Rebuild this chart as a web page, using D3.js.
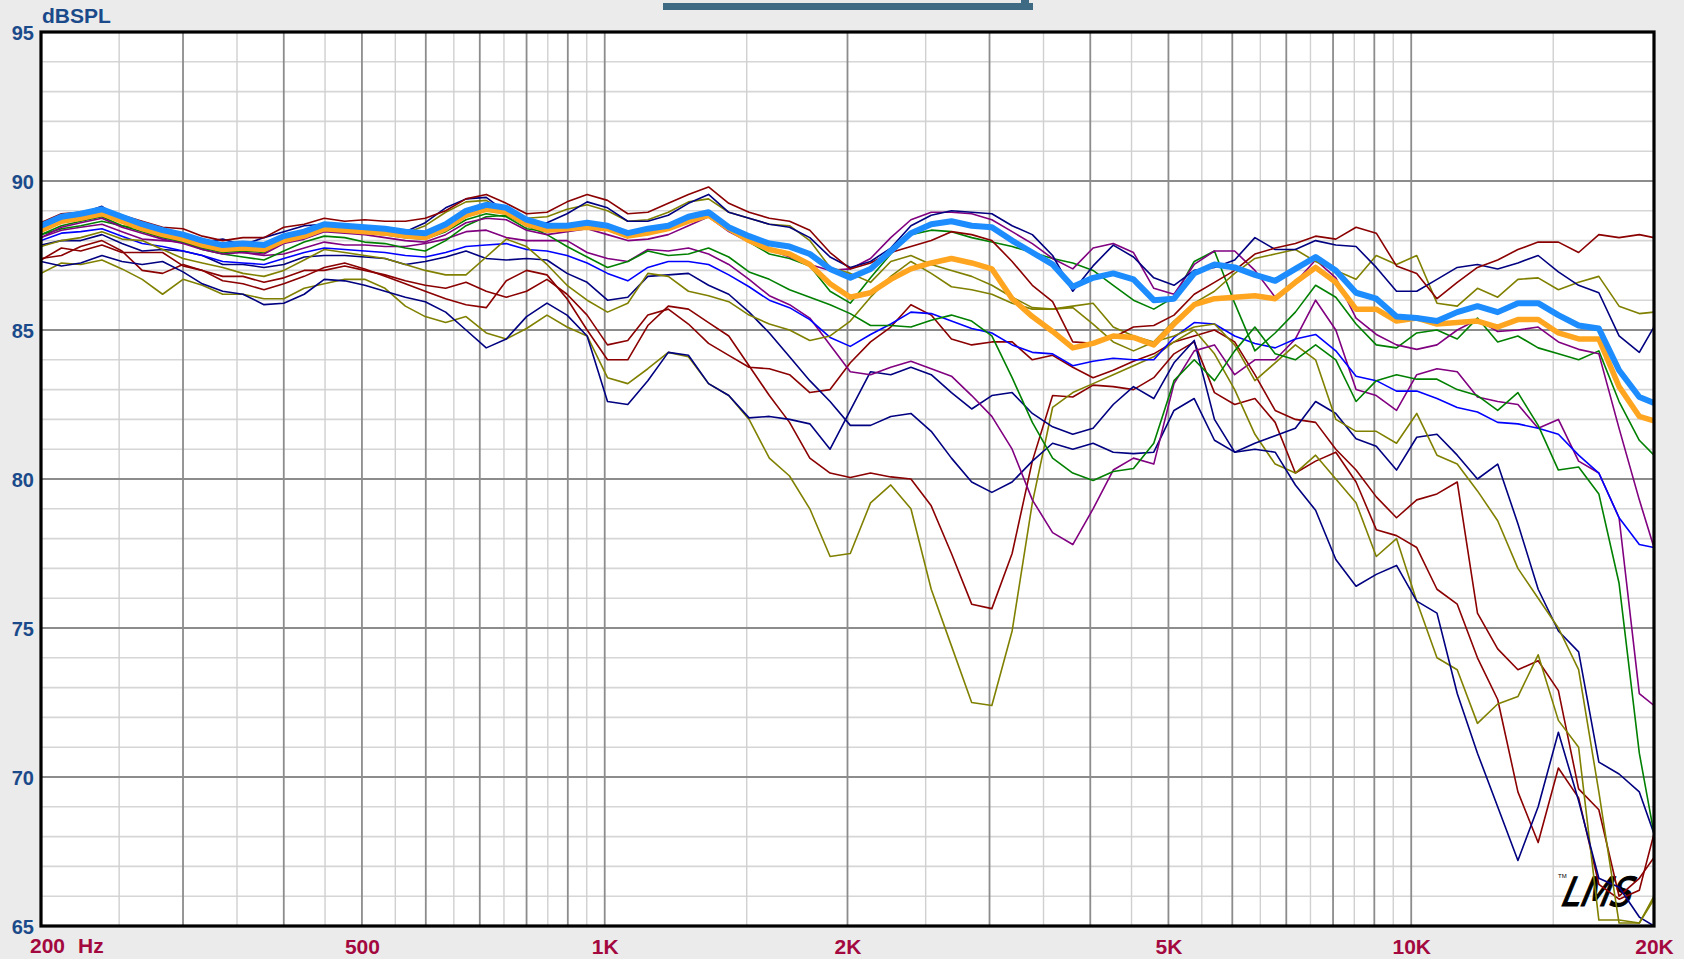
<!DOCTYPE html>
<html>
<head>
<meta charset="utf-8">
<script src="https://cdn.jsdelivr.net/npm/d3@7"></script>
<style>
  html, body { margin: 0; padding: 0; background: #ebebeb; }
  svg { display: block; }
</style>
</head>
<body>
<svg></svg>
<script>
// 1/12 octave measurement points, Hz
const freqs = [200, 212, 224, 238, 252, 267, 283, 300, 317, 336, 356, 378, 400, 424, 449, 476, 504, 534, 566, 599,
    635, 673, 713, 755, 800, 848, 898, 951, 1008, 1068, 1131, 1199, 1270, 1345, 1425, 1510, 1600, 1695, 1796, 1903,
    2016, 2136, 2263, 2397, 2540, 2691, 2851, 3020, 3200, 3390, 3592, 3805, 4032, 4271, 4525, 4795, 5080, 5382, 5702, 6041,
    6400, 6781, 7184, 7611, 8063, 8543, 9051, 9589, 10159, 10763, 11404, 12082, 12800, 13561, 14368, 15222, 16127, 17086, 18102, 19179, 20000];

// dBSPL curves
const redA = [88.6, 88.9, 88.95, 89.1, 88.85, 88.65, 88.45, 88.4, 88.15, 88.0, 88.1, 88.1, 88.45, 88.55, 88.75, 88.65, 88.7, 88.65, 88.65, 88.75, 89.0, 89.4, 89.55, 89.25, 88.9, 88.95, 89.3, 89.55,
    89.35, 88.9, 88.95, 89.25, 89.55, 89.8, 89.25, 88.95, 88.75, 88.65, 88.35, 87.6, 87.05, 87.25, 87.6, 87.8, 88.0, 88.3, 88.2, 88.0, 87.3, 86.5, 85.95, 84.6, 84.55, 84.75, 85.1, 85.15,
    85.5, 86.2, 86.6, 87.0, 87.55, 87.75, 87.9, 88.15, 88.05, 88.45, 88.25, 87.15, 86.9, 86.05, 86.6, 87.1, 87.35, 87.7, 87.95, 87.95, 87.6, 88.2, 88.1, 88.2, 88.1];
const navyA = [88.45, 88.75, 88.9, 89.15, 88.7, 88.55, 88.4, 88.2, 87.95, 88.05, 87.85, 88.1, 88.3, 88.5, 88.55, 88.5, 88.4, 88.35, 88.3, 88.6, 89.1, 89.4, 89.45, 88.95, 88.6, 88.6, 88.9, 89.3,
    89.1, 88.65, 88.65, 88.85, 89.25, 89.55, 88.95, 88.75, 88.55, 88.45, 88.1, 87.45, 87.1, 87.3, 87.75, 88.5, 88.85, 89.0, 88.95, 88.9, 88.5, 88.2, 87.5, 86.3, 87.15, 87.85, 87.45, 86.75,
    86.5, 87.0, 87.1, 87.35, 88.1, 87.7, 87.7, 88.0, 87.85, 87.8, 87.1, 86.3, 86.3, 86.7, 87.1, 87.2, 87.05, 87.25, 87.5, 86.95, 86.5, 86.25, 84.8, 84.25, 85.1];
const oliveA = [88.3, 88.6, 88.75, 88.9, 88.6, 88.4, 88.2, 88.1, 87.9, 87.75, 87.8, 87.8, 88.1, 88.3, 88.45, 88.4, 88.35, 88.3, 88.25, 88.5, 88.95, 89.3, 89.35, 88.95, 88.75, 88.8, 89.05, 89.2,
    89.0, 88.65, 88.7, 88.95, 89.3, 89.4, 88.95, 88.75, 88.55, 88.5, 88.0, 87.1, 86.9, 86.6, 87.3, 87.5, 87.2, 87.0, 86.8, 86.5, 86.1, 85.75, 85.7, 85.8, 85.9, 85.1, 84.8, 84.6,
    85.3, 85.9, 86.3, 86.9, 87.4, 87.55, 87.7, 87.3, 87.0, 86.7, 87.5, 87.2, 87.5, 85.9, 85.8, 86.4, 86.1, 86.7, 86.75, 86.35, 86.6, 86.8, 85.8, 85.55, 85.6];
const purpleA = [88.1, 88.45, 88.6, 88.75, 88.45, 88.25, 88.05, 87.9, 87.7, 87.55, 87.6, 87.55, 87.9, 88.05, 88.3, 88.25, 88.2, 88.1, 88.0, 87.95, 88.2, 88.6, 88.75, 88.7, 88.35, 88.2, 88.3, 88.4,
    88.2, 88.0, 88.05, 88.2, 88.5, 88.8, 88.3, 87.95, 87.7, 87.45, 87.2, 87.0, 87.05, 87.4, 88.1, 88.7, 88.95, 88.95, 88.9, 88.7, 88.3, 87.9, 87.4, 87.05, 87.75, 87.9, 87.6, 86.4,
    86.2, 87.2, 87.65, 87.65, 87.0, 86.1, 86.6, 87.35, 86.75, 85.4, 84.85, 84.5, 84.35, 84.5, 85.0, 85.35, 84.95, 85.0, 85.1, 84.6, 84.35, 84.2, 81.7, 79.3, 77.7];
const greenA = [88.2, 88.5, 88.65, 88.8, 88.5, 88.3, 88.1, 87.95, 87.75, 87.6, 87.65, 87.6, 87.95, 88.1, 88.35, 88.3, 88.25, 88.2, 88.1, 88.05, 88.3, 88.7, 88.9, 88.8, 88.4, 88.3, 88.4, 88.45,
    88.4, 88.2, 88.3, 88.5, 88.85, 88.85, 88.4, 87.95, 87.55, 87.4, 87.15, 86.3, 85.9, 86.75, 87.55, 88.2, 88.35, 88.3, 88.1, 87.95, 87.8, 87.6, 87.4, 87.25, 87.0, 86.5, 86.0, 85.7,
    86.1, 87.3, 87.65, 85.9, 84.3, 84.9, 85.6, 86.5, 86.1, 85.2, 84.5, 84.4, 84.9, 85.0, 84.7, 85.4, 84.6, 84.8, 84.4, 84.2, 84.0, 84.3, 82.6, 81.3, 80.8];
const greenB = [88.2, 88.4, 88.5, 88.65, 88.5, 88.4, 88.15, 87.95, 87.7, 87.55, 87.45, 87.35, 87.65, 87.95, 88.15, 88.1, 87.95, 87.9, 87.75, 87.65, 88.0, 88.5, 88.8, 88.85, 88.5, 88.2, 87.8, 87.45,
    87.1, 87.3, 87.65, 87.5, 87.55, 87.75, 87.45, 86.95, 86.7, 86.35, 86.1, 85.85, 85.55, 85.15, 85.15, 85.1, 85.33, 85.5, 85.3, 84.8, 83.4, 81.9, 80.7, 80.2, 79.95, 80.25, 80.35, 81.2,
    83.3, 84.0, 83.3, 84.3, 85.1, 84.2, 84.0, 84.5, 84.0, 82.6, 83.3, 83.5, 83.35, 83.35, 83.0, 82.8, 82.3, 82.9, 81.8, 80.3, 80.4, 79.5, 76.5, 70.8, 68.1];
const oliveB = [87.8, 88.0, 88.1, 88.3, 88.05, 88.0, 87.7, 87.4, 87.25, 87.1, 86.9, 86.8, 87.0, 87.35, 87.7, 87.6, 87.5, 87.4, 87.2, 87.0, 86.85, 86.85, 87.45, 88.05, 87.8, 87.2, 86.5, 86.0,
    85.6, 85.9, 86.9, 86.8, 86.3, 86.15, 85.95, 85.5, 85.2, 85.0, 84.65, 84.8, 85.3, 86.1, 86.8, 87.3, 86.9, 86.45, 86.35, 86.2, 85.9, 85.7, 85.7, 85.75, 85.2, 84.6, 84.3, 84.6,
    84.8, 85.1, 85.2, 84.5, 83.3, 83.9, 84.5, 84.0, 82.0, 81.6, 81.6, 81.2, 82.2, 80.8, 80.5, 79.6, 78.6, 77.0, 76.0, 75.0, 73.6, 69.5, 65.1, 65.1, 65.9];
const navyB = [87.85, 88.0, 88.0, 88.2, 87.9, 87.65, 87.7, 87.65, 87.5, 87.2, 87.2, 87.1, 87.2, 87.45, 87.5, 87.5, 87.45, 87.4, 87.2, 87.3, 87.45, 87.65, 87.4, 87.35, 87.4, 87.35, 86.9, 86.6,
    86.0, 86.1, 86.8, 86.85, 86.9, 86.5, 86.2, 85.6, 84.9, 84.1, 83.3, 82.6, 81.8, 81.8, 82.1, 82.2, 81.6, 80.7, 79.9, 79.55, 79.9, 80.6, 81.2, 81.0, 81.2, 80.9, 80.85, 80.9,
    82.3, 82.7, 81.3, 80.9, 81.2, 81.45, 81.7, 82.6, 82.2, 81.35, 81.1, 80.3, 81.4, 81.5, 80.8, 80.0, 80.5, 78.5, 76.3, 74.9, 74.2, 70.5, 70.1, 69.5, 68.1];
const navyC = [87.3, 87.15, 87.25, 87.5, 87.3, 87.2, 87.3, 86.95, 86.55, 86.3, 86.2, 85.85, 85.9, 86.2, 86.7, 86.65, 86.5, 86.3, 86.1, 85.95, 85.6, 85.0, 84.4, 84.7, 85.45, 85.9, 85.5, 84.8,
    82.6, 82.5, 83.3, 84.25, 84.15, 83.2, 82.8, 82.05, 82.1, 82.0, 81.85, 81.0, 82.3, 83.6, 83.5, 83.75, 83.5, 82.9, 82.35, 82.8, 82.9, 82.2, 81.75, 81.5, 81.7, 82.5, 83.1, 82.7,
    83.9, 84.65, 82.0, 80.9, 81.0, 80.9, 79.8, 78.95, 77.3, 76.4, 76.8, 77.1, 75.9, 75.5, 72.8, 70.8, 69.0, 67.2, 69.0, 71.5, 69.2, 66.6, 66.3, 65.3, 65.0];
const blueA = [88.0, 88.25, 88.3, 88.4, 88.15, 87.9, 87.8, 87.65, 87.5, 87.3, 87.25, 87.2, 87.4, 87.6, 87.75, 87.7, 87.65, 87.6, 87.5, 87.45, 87.6, 87.8, 87.85, 87.9, 87.7, 87.65, 87.5, 87.25,
    86.9, 86.65, 87.1, 87.3, 87.3, 87.2, 86.85, 86.45, 86.0, 85.75, 85.35, 84.75, 84.45, 84.85, 85.2, 85.6, 85.55, 85.3, 85.05, 84.9, 84.5, 84.25, 84.2, 83.8, 83.95, 84.05, 84.0, 84.0,
    84.75, 85.25, 85.2, 84.8, 84.55, 84.4, 84.7, 84.85, 84.3, 83.45, 83.3, 82.95, 82.95, 82.7, 82.4, 82.25, 81.9, 81.85, 81.7, 81.5, 80.8, 80.2, 78.7, 77.8, 77.7];
const purpleB = [88.1, 88.35, 88.45, 88.55, 88.3, 88.05, 88.0, 87.95, 87.75, 87.65, 87.6, 87.5, 87.55, 87.75, 87.95, 87.85, 87.85, 87.8, 87.8, 87.9, 88.05, 88.3, 88.35, 88.1, 88.0, 88.0, 88.0, 87.6,
    87.4, 87.3, 87.7, 87.65, 87.75, 87.55, 87.2, 86.7, 86.15, 85.85, 85.4, 84.5, 83.6, 83.5, 83.75, 83.95, 83.7, 83.45, 82.8, 82.1, 81.0, 79.3, 78.2, 77.8, 79.0, 80.3, 80.7, 80.5,
    83.2, 84.3, 84.5, 83.5, 84.0, 84.0, 84.7, 86.0, 85.0, 83.0, 82.8, 82.3, 83.5, 83.7, 83.6, 82.75, 82.6, 82.5, 81.7, 82.0, 80.6, 80.2, 78.7, 72.8, 72.4];
const redB = [87.35, 87.75, 87.65, 87.85, 87.6, 87.6, 87.6, 87.15, 87.0, 86.8, 86.8, 86.6, 86.75, 87.0, 87.0, 87.15, 87.0, 86.85, 86.65, 86.5, 86.4, 86.6, 86.3, 86.1, 86.3, 86.7, 86.2, 85.5,
    84.5, 84.65, 85.5, 85.7, 85.2, 84.55, 84.15, 83.75, 83.7, 83.5, 82.9, 83.0, 83.9, 84.6, 85.1, 85.85, 85.5, 84.7, 84.5, 84.6, 84.6, 84.0, 84.15, 83.75, 83.4, 83.65, 83.95, 84.2,
    84.6, 84.8, 85.0, 84.6, 83.5, 82.3, 82.0, 81.9, 81.0, 80.3, 79.4, 78.7, 79.3, 79.5, 79.9, 75.5, 74.3, 73.6, 73.9, 72.9, 69.6, 68.9, 66.0, 66.6, 67.3];
const redC = [87.4, 87.5, 87.8, 88.0, 87.65, 87.0, 86.9, 87.2, 87.0, 86.65, 86.55, 86.35, 86.55, 86.8, 87.1, 87.25, 87.05, 86.8, 86.55, 86.3, 86.05, 85.85, 85.75, 86.65, 87.0, 86.85, 86.05, 85.0,
    84.0, 84.0, 85.15, 85.8, 85.7, 85.25, 84.8, 83.8, 82.8, 81.9, 80.7, 80.2, 80.05, 80.2, 80.07, 80.0, 79.1, 77.5, 75.8, 75.65, 77.5, 80.6, 82.8, 82.75, 83.15, 83.1, 83.0, 83.4,
    84.2, 84.6, 82.9, 82.5, 82.7, 81.9, 80.2, 80.6, 80.9, 79.9, 78.3, 78.1, 77.7, 76.3, 75.8, 74.0, 72.6, 69.5, 67.8, 70.3, 69.3, 66.4, 65.9, 66.2, 68.1];
const oliveC = [86.9, 87.25, 87.2, 87.35, 87.05, 86.7, 86.2, 86.7, 86.5, 86.2, 86.2, 86.05, 86.05, 86.4, 86.55, 86.7, 86.7, 86.4, 85.8, 85.45, 85.25, 85.45, 84.9, 84.7, 85.05, 85.5, 85.1, 84.8,
    83.4, 83.2, 83.7, 84.25, 84.1, 83.2, 82.8, 82.0, 80.7, 80.1, 79.0, 77.4, 77.5, 79.2, 79.8, 79.0, 76.3, 74.4, 72.5, 72.4, 74.9, 79.2, 82.4, 82.9, 83.2, 83.5, 83.8, 84.1,
    84.6, 85.0, 84.2, 83.0, 81.5, 80.5, 80.2, 80.8, 80.0, 79.2, 77.4, 78.0, 75.9, 74.0, 73.6, 71.8, 72.45, 72.7, 74.1, 71.9, 71.0, 65.2, 65.2, 65.1, 66.0];
const avgBlue = [88.5, 88.8, 88.9, 89.05, 88.8, 88.55, 88.35, 88.2, 88.0, 87.85, 87.9, 87.85, 88.15, 88.3, 88.55, 88.5, 88.45, 88.4, 88.3, 88.25, 88.55, 89.0, 89.2, 89.1, 88.7, 88.5, 88.5, 88.6,
    88.5, 88.25, 88.4, 88.5, 88.8, 88.95, 88.45, 88.15, 87.9, 87.8, 87.55, 87.05, 86.75, 87.05, 87.65, 88.25, 88.55, 88.65, 88.5, 88.45, 88.0, 87.6, 87.2, 86.45, 86.75, 86.9, 86.7, 86.0,
    86.05, 86.9, 87.2, 87.1, 86.85, 86.65, 87.05, 87.45, 87.0, 86.25, 86.05, 85.45, 85.4, 85.3, 85.6, 85.8, 85.6, 85.9, 85.9, 85.5, 85.15, 85.05, 83.65, 82.75, 82.55];
const avgOrange = [88.35, 88.65, 88.75, 88.9, 88.65, 88.4, 88.2, 88.05, 87.85, 87.7, 87.75, 87.7, 88.0, 88.15, 88.4, 88.35, 88.3, 88.25, 88.15, 88.1, 88.4, 88.85, 89.05, 88.95, 88.55, 88.35, 88.4, 88.45,
    88.4, 88.15, 88.25, 88.4, 88.65, 88.85, 88.4, 88.0, 87.7, 87.55, 87.2, 86.55, 86.1, 86.25, 86.7, 87.05, 87.25, 87.4, 87.25, 87.05, 86.05, 85.45, 84.95, 84.4, 84.55, 84.8, 84.75, 84.5,
    85.2, 85.85, 86.05, 86.1, 86.15, 86.05, 86.6, 87.1, 86.6, 85.7, 85.7, 85.3, 85.4, 85.2, 85.25, 85.3, 85.1, 85.35, 85.35, 84.9, 84.7, 84.7, 83.1, 82.1, 81.95];

const thinCurves = [
    { color: "#8b0000", values: redB }, { color: "#8b0000", values: redC },
    { color: "#808000", values: oliveC }, { color: "#000080", values: navyC },
    { color: "#000080", values: navyB }, { color: "#800080", values: purpleB },
    { color: "#0000ff", values: blueA }, { color: "#808000", values: oliveB },
    { color: "#008000", values: greenB }, { color: "#008000", values: greenA },
    { color: "#800080", values: purpleA }, { color: "#808000", values: oliveA },
    { color: "#000080", values: navyA }, { color: "#8b0000", values: redA }
];
const thickCurves = [
    { color: "#ffa51f", values: avgOrange, width: 5.5 },
    { color: "#1c8cff", values: avgBlue, width: 6 }
];

const yTicks = [95, 90, 85, 80, 75, 70, 65];
const xTicks = [500, 1000, 2000, 5000, 10000, 20000];
const xTickText = ["500", "1K", "2K", "5K", "10K", "20K"];
const majorFreqs = [300, 400, 500, 600, 700, 800, 900, 1000, 2000, 3000, 4000, 5000, 6000, 7000, 8000, 9000, 10000];
const minorFreqs = [250, 350, 450, 550, 650, 750, 850, 950, 1500, 2500, 3500, 4500, 5500, 6500, 7500, 8500, 9500, 15000];

const width = 1684, height = 959;
const svg = d3.select("svg").attr("width", width).attr("height", height);
const x = d3.scaleLog().domain([200, 20000]).range([41, 1654]);
const y = d3.scaleLinear().domain([65, 95]).range([926, 32]);

// top slider bar
svg.append("rect").attr("x", 663).attr("y", 3).attr("width", 370).attr("height", 7).attr("fill", "#3e6a83");
svg.append("rect").attr("x", 1021).attr("y", 0).attr("width", 8).attr("height", 4).attr("fill", "#3e6a83");

svg.append("rect").attr("x", 41).attr("y", 32).attr("width", 1613).attr("height", 894).attr("fill", "#fff");

const grid = svg.append("g");
const dbs = d3.range(66, 95);
grid.selectAll(".hmin").data(dbs.filter(d => d % 5 !== 0)).enter().append("line")
    .attr("x1", 41).attr("x2", 1654).attr("y1", d => y(d)).attr("y2", d => y(d))
    .attr("stroke", "#d6d6d6").attr("stroke-width", 1.6);
grid.selectAll(".vmin").data(minorFreqs).enter().append("line")
    .attr("x1", d => x(d)).attr("x2", d => x(d)).attr("y1", 32).attr("y2", 926)
    .attr("stroke", "#d0d0d0").attr("stroke-width", 1.4);
grid.selectAll(".vmaj").data(majorFreqs).enter().append("line")
    .attr("x1", d => x(d)).attr("x2", d => x(d)).attr("y1", 32).attr("y2", 926)
    .attr("stroke", "#8c8c8c").attr("stroke-width", 1.8);
grid.selectAll(".hmaj").data(dbs.filter(d => d % 5 === 0)).enter().append("line")
    .attr("x1", 41).attr("x2", 1654).attr("y1", d => y(d)).attr("y2", d => y(d))
    .attr("stroke", "#8c8c8c").attr("stroke-width", 1.8);

// LMS mark
const logo = svg.append("g").attr("transform", "translate(1561,906) skewX(-14)");
logo.append("text").text("LMS")
    .attr("font-family", "DejaVu Sans, sans-serif").attr("font-size", 40)
    .attr("font-style", "italic").attr("textLength", 70).attr("lengthAdjust", "spacingAndGlyphs")
    .attr("fill", "#000").attr("stroke", "#000").attr("stroke-width", 1.2);
svg.append("text").attr("x", 1558).attr("y", 878).text("TM")
    .attr("font-family", "Liberation Sans, Arial, sans-serif").attr("font-size", 6).attr("fill", "#000");

svg.append("clipPath").attr("id", "plot").append("rect")
    .attr("x", 41).attr("y", 32).attr("width", 1613).attr("height", 894);

const line = d3.line().x((d, i) => x(freqs[i])).y(d => y(d));
const curves = svg.append("g").attr("clip-path", "url(#plot)");
curves.selectAll(".thin").data(thinCurves).enter().append("path")
    .attr("d", d => line(d.values))
    .attr("fill", "none").attr("stroke", d => d.color).attr("stroke-width", 1.6)
    .attr("stroke-linejoin", "round");
curves.selectAll(".thick").data(thickCurves).enter().append("path")
    .attr("d", d => line(d.values))
    .attr("fill", "none").attr("stroke", d => d.color).attr("stroke-width", d => d.width)
    .attr("stroke-linejoin", "round").attr("stroke-linecap", "round");

svg.append("rect").attr("x", 41).attr("y", 32).attr("width", 1613).attr("height", 894)
    .attr("fill", "none").attr("stroke", "#000").attr("stroke-width", 3.2);

const yAxis = svg.append("g").attr("transform", "translate(35,0)")
    .call(d3.axisLeft(y).tickValues(yTicks).tickSize(0).tickPadding(1).tickFormat(d3.format("d")));
yAxis.select(".domain").remove();
yAxis.selectAll("text")
    .attr("font-family", "Liberation Sans, Arial, sans-serif").attr("font-size", 20).attr("font-weight", "bold")
    .attr("fill", "#1a4a8a").attr("dy", "0.36em");

const xAxis = svg.append("g").attr("transform", "translate(0,936)")
    .call(d3.axisBottom(x).tickValues(xTicks).tickSize(0).tickPadding(0).tickFormat((d, i) => xTickText[i]));
xAxis.select(".domain").remove();
xAxis.selectAll("text")
    .attr("font-family", "Liberation Sans, Arial, sans-serif").attr("font-size", 21).attr("font-weight", "bold")
    .attr("fill", "#a3083f").attr("dy", "0.85em");

svg.append("text").attr("x", 30).attr("y", 953).text("200")
    .attr("font-family", "Liberation Sans, Arial, sans-serif").attr("font-size", 21).attr("font-weight", "bold").attr("fill", "#a3083f");
svg.append("text").attr("x", 78).attr("y", 953).text("Hz")
    .attr("font-family", "Liberation Sans, Arial, sans-serif").attr("font-size", 21).attr("font-weight", "bold").attr("fill", "#a3083f");

svg.append("text").attr("x", 42).attr("y", 23).text("dBSPL")
    .attr("font-family", "Liberation Sans, Arial, sans-serif").attr("font-size", 21).attr("font-weight", "bold").attr("fill", "#1a4a8a");
</script>
</body>
</html>
